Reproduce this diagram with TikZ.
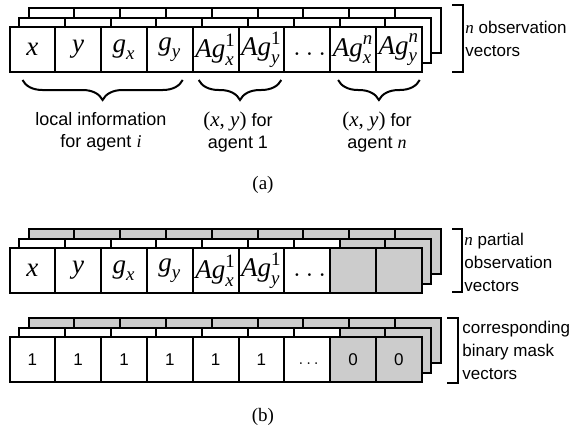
\documentclass[tikz,border=0pt]{standalone}
\usepackage{amsmath}
\usepackage{fontspec}
\setmainfont{Liberation Sans}
\newfontfamily\capfont{Liberation Serif}
\usetikzlibrary{decorations.pathreplacing,calc}

\definecolor{maskgray}{RGB}{204,204,204}

% italic serif letters for the vector entries
\newcommand\vx[1]{\text{\capfont\itshape #1}}
\newcommand\vn[1]{\text{\capfont #1}}
\newcommand\pairxy{{\capfont\fontsize{10.5}{11}\selectfont(\textit{x}, \textit{y})}}

\tikzset{
  cell/.style={
    rectangle,
    draw=black,
    fill=white,
    line width=1pt,
    anchor=north west,
    inner sep=0pt,
    outer sep=0pt,
    minimum width=22.9pt,
    minimum height=22.5pt,
    font=\fontsize{13.5}{15}\selectfont
  },
  bitcell/.style={
    cell,
    font=\fontsize{8.5}{10}\selectfont
  },
  note/.style={
    align=left,
    anchor=west,
    inner sep=0pt,
    font=\fontsize{8.5}{11.5}\selectfont
  },
  caption/.style={
    align=center,
    anchor=north,
    inner sep=0pt,
    font=\fontsize{9}{11}\selectfont
  },
  tag/.style={inner sep=0pt, font=\capfont\fontsize{9.5}{11}\selectfont},
  brace/.style={decorate, decoration={brace, mirror, amplitude=10pt}, line width=1pt},
  bracket/.style={line width=1pt}
}

\begin{document}
\begin{tikzpicture}[x=0.5pt, y=-0.5pt]
  \useasboundingbox (0,0) rectangle (569,429);

  % (a) full observation vectors, three stacked copies
  \foreach \i in {1,...,9}
    \node[cell] (aback\i) at ({28.5+(\i-1)*45.8}, 8) {};
  \foreach \i in {1,...,9}
    \node[cell] (amid\i) at ({19+(\i-1)*45.8}, 17.5) {};
  \foreach \txt [count=\i] in {$\vx{x}$, $\vx{y}$, $\vx{g}_{\vx{x}}$, $\vx{g}_{\vx{y}}$, $\vx{Ag}_{\vx{x}}^{\vn{1}}$, $\vx{Ag}_{\vx{y}}^{\vn{1}}$, $\vphantom{\vx{x}}\ldots$, $\vx{Ag}_{\vx{x}}^{\vx{n}}$, $\vx{Ag}_{\vx{y}}^{\vx{n}}$}
    \node[cell] (a\i) at ({9.5+(\i-1)*45.8}, 27) {\txt};

  \draw[bracket] (452,5) -- (463,5) -- (463,72) -- (452,72);
  \node[note] (obsnote) at (465,39) {\vx{n} observation\\vectors};

  \draw[brace] ($(a1.south west)+(13,8)$) -- ($(a4.south east)+(-10,8)$);
  \draw[brace] ($(a5.south west)+(6,8)$) -- ($(a6.south east)+(-3,8)$);
  \draw[brace] ($(a8.south west)+(8,8)$) -- ($(a9.south east)+(-2,8)$);
  \node[caption] (localinfo) at (101,112) {local information\\for agent \vx{i}};
  \node[caption] (agentone) at (238,112) {\pairxy{} for\\agent 1};
  \node[caption] (agentn) at (377,112) {\pairxy{} for\\agent \vx{n}};

  \node[tag] (taga) at (263,185) {(a)};

  % (b) partial observations, last entries unknown
  \foreach \i in {1,...,9}
    \node[cell, fill=maskgray] (pback\i) at ({28.5+(\i-1)*45.8}, 229) {};
  \foreach \f [count=\i] in {white,white,white,white,white,white,white,maskgray,maskgray}
    \node[cell, fill=\f] (pmid\i) at ({19+(\i-1)*45.8}, 238.5) {};
  \foreach \txt/\f [count=\i] in {$\vx{x}$/white, $\vx{y}$/white, $\vx{g}_{\vx{x}}$/white, $\vx{g}_{\vx{y}}$/white, $\vx{Ag}_{\vx{x}}^{\vn{1}}$/white, $\vx{Ag}_{\vx{y}}^{\vn{1}}$/white, $\vphantom{\vx{x}}\ldots$/white, {}/maskgray, {}/maskgray}
    \node[cell, fill=\f] (p\i) at ({9.5+(\i-1)*45.8}, 248) {\txt};

  \draw[bracket] (452,229) -- (462,229) -- (462,292) -- (452,292);
  \node[note] (partnote) at (464,262) {\vx{n} partial\\observation\\vectors};

  % binary masks
  \foreach \i in {1,...,9}
    \node[bitcell, fill=maskgray] (mback\i) at ({28.5+(\i-1)*45.8}, 318) {};
  \foreach \f [count=\i] in {white,white,white,white,white,white,white,maskgray,maskgray}
    \node[bitcell, fill=\f] (mmid\i) at ({19+(\i-1)*45.8}, 327.5) {};
  \foreach \txt/\f [count=\i] in {1/white, 1/white, 1/white, 1/white, 1/white, 1/white, $\vphantom{1}\ldots$/white, 0/maskgray, 0/maskgray}
    \node[bitcell, fill=\f] (m\i) at ({9.5+(\i-1)*45.8}, 337) {\txt};

  \draw[bracket] (447,318) -- (458,318) -- (458,383) -- (447,383);
  \node[note] (masknote) at (462,350) {corresponding\\binary mask\\vectors};

  \node[tag] (tagb) at (263,417) {(b)};
\end{tikzpicture}
\end{document}
